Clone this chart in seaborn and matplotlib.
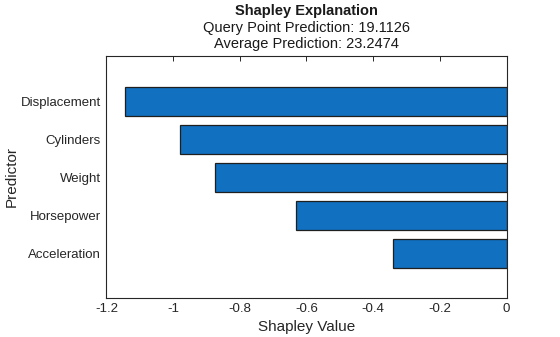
import matplotlib
matplotlib.use("Agg")
import matplotlib.pyplot as plt
import seaborn as sns
import pandas as pd

predictors = ["Displacement", "Cylinders", "Weight", "Horsepower", "Acceleration"]
shap_values = [-1.1436, -0.9786, -0.8754, -0.6306, -0.3396]
xticks = [-1.2, -1, -0.8, -0.6, -0.4, -0.2, 0]
xtick_labels = ["-1.2", "-1", "-0.8", "-0.6", "-0.4", "-0.2", "0"]

sns.set_theme(style="white")
plt.rcParams["font.family"] = ["Liberation Sans", "DejaVu Sans"]

df = pd.DataFrame({"Predictor": predictors, "Shapley Value": shap_values})

fig = plt.figure(figsize=(5.6, 3.37), dpi=100)
ax = fig.add_axes([0.190, 0.1166, 0.7145, 0.7181])

sns.barplot(data=df, x="Shapley Value", y="Predictor", orient="h",
            color="#1170c0", saturation=1, width=0.77,
            edgecolor="#1f1f1f", linewidth=0.9, ax=ax)

ax.set_xlim(-1.2, 0)
ax.set_ylim(4 + 1.17, -1.2)
ax.set_xticks(xticks)
ax.set_xticklabels(xtick_labels)
ax.tick_params(direction="in", length=3.5, width=0.7, top=True, right=True,
               labelsize=9.5, colors="#262626", pad=4)
ax.tick_params(axis="y", pad=4)
for s in ax.spines.values():
    s.set_visible(True)
    s.set_color("#262626")
    s.set_linewidth(0.8)
ax.set_xlabel("Shapley Value", fontsize=11, color="#262626")
ax.set_ylabel("Predictor", fontsize=11, color="#262626")
ax.xaxis.set_label_coords(0.5, -0.093)
ax.yaxis.set_label_coords(-0.218, 0.5)

fig.text(0.548, 1 - 11 / 337, "Shapley Explanation", ha="center", va="center",
         fontsize=10.5, fontweight="bold", color="#1a1a1a")
fig.text(0.548, 1 - 28 / 337, "Query Point Prediction: 19.1126", ha="center", va="center",
         fontsize=10.5, color="#1a1a1a")
fig.text(0.548, 1 - 44 / 337, "Average Prediction: 23.2474", ha="center", va="center",
         fontsize=10.5, color="#1a1a1a")

fig.savefig("out.png", dpi=100, facecolor="white")
